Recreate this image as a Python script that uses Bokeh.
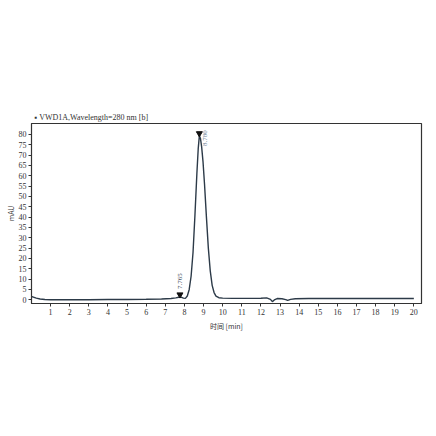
from bokeh.plotting import figure
from bokeh.models import Range1d, FixedTicker, ColumnDataSource, Label
from bokeh.transform import dodge
from bokeh.embed import file_html
from bokeh.resources import INLINE

# chromatogram trace (time in min, signal in mAU)
time = [0.0, 0.1, 0.25, 0.45, 0.7, 1.0, 2.0, 3.0, 4.0, 5.0, 6.0, 6.8, 7.3, 7.55,
        7.7, 7.765, 7.85, 7.95, 8.05, 8.15, 8.25, 8.35, 8.45, 8.55, 8.65, 8.72,
        8.78, 8.84, 8.9, 8.97, 9.05, 9.15, 9.25, 9.35, 9.45, 9.55, 9.65, 9.8,
        10.0, 10.5, 11.0, 11.5, 12.0, 12.3, 12.5, 12.6, 12.7, 12.85, 13.1,
        13.3, 13.4, 13.55, 13.8, 14.5, 16.0, 18.0, 20.0]
signal = [1.6, 1.3, 0.8, 0.4, 0.15, 0.05, 0.0, 0.05, 0.1, 0.15, 0.25, 0.4, 0.6, 0.9,
          1.2, 1.3, 1.2, 0.8, 0.7, 1.8, 5.0, 11.5, 23.0, 41.0, 61.0, 73.0,
          79.3, 78.0, 74.0, 67.0, 56.0, 40.0, 25.0, 14.0, 7.0, 3.5, 1.8, 1.0,
          0.8, 0.7, 0.7, 0.7, 0.75, 0.9, 0.2, -0.9, -0.1, 0.6, 0.5,
          0.1, -0.3, 0.2, 0.5, 0.6, 0.6, 0.6, 0.6]

# peak annotations
peak_times = [7.765, 8.780]
peak_heights = [1.3, 79.3]
peak_labels = ["7.765", "8.780"]

x_ticks = list(range(1, 21))
y_ticks = list(range(0, 81, 5))

p = figure(width=430, height=430, output_backend="svg", toolbar_location=None,
           x_range=Range1d(0, 20.4), y_range=Range1d(-1.8, 85.3),
           title="▪ VWD1A,Wavelength=280 nm [b]",
           x_axis_label="时间 [min]", y_axis_label="mAU")

p.min_border_left = 31
p.min_border_right = 9
p.min_border_top = 123
p.min_border_bottom = 127

p.title.text_font = "Liberation Serif"
p.title.text_font_size = "8px"
p.title.text_font_style = "normal"
p.title.text_color = "#333333"
p.title.offset = 3
p.title.standoff = 3

p.grid.visible = False
p.outline_line_color = "#333333"
p.outline_line_width = 1.2
p.background_fill_color = "white"
p.border_fill_color = "white"

for ax in (p.xaxis, p.yaxis):
    ax.axis_line_color = "#333333"
    ax.major_tick_line_color = "#333333"
    ax.minor_tick_line_color = None
    ax.major_tick_in = 0
    ax.major_tick_out = 3
    ax.major_label_text_font = "Liberation Serif"
    ax.major_label_text_font_size = "8px"
    ax.major_label_text_color = "#333333"
    ax.major_label_standoff = 2
    ax.axis_label_text_font = "Noto Sans CJK SC"
    ax.axis_label_text_font_size = "7px"
    ax.axis_label_text_font_style = "normal"
    ax.axis_label_text_color = "#333333"
    ax.axis_label_standoff = 3

p.yaxis.axis_label_standoff = 0

p.xaxis.ticker = FixedTicker(ticks=x_ticks)
p.yaxis.ticker = FixedTicker(ticks=y_ticks)

p.line(time, signal, line_color="#2c3a48", line_width=1.4)

src = ColumnDataSource(dict(t=peak_times, h=peak_heights, lab=peak_labels))
p.scatter(x="t", y=dodge("h", 1.2), source=src, marker="inverted_triangle",
          size=6, color="#111111")

# small peak label: centred above its marker, reading bottom-to-top
p.add_layout(Label(x=peak_times[0], y=peak_heights[0], text=peak_labels[0],
                   angle=90, angle_units="deg", x_offset=0, y_offset=8,
                   text_align="left", text_baseline="middle",
                   text_font="Liberation Serif", text_font_size="7px",
                   text_color="#3a4856"))
# main peak label: to the right of the apex
p.add_layout(Label(x=peak_times[1], y=peak_heights[1], text=peak_labels[1],
                   angle=90, angle_units="deg", x_offset=6, y_offset=-10,
                   text_align="left", text_baseline="middle",
                   text_font="Liberation Serif", text_font_size="7px",
                   text_color="#6a7c90"))

open("out.html", "w").write(file_html(p, INLINE))
